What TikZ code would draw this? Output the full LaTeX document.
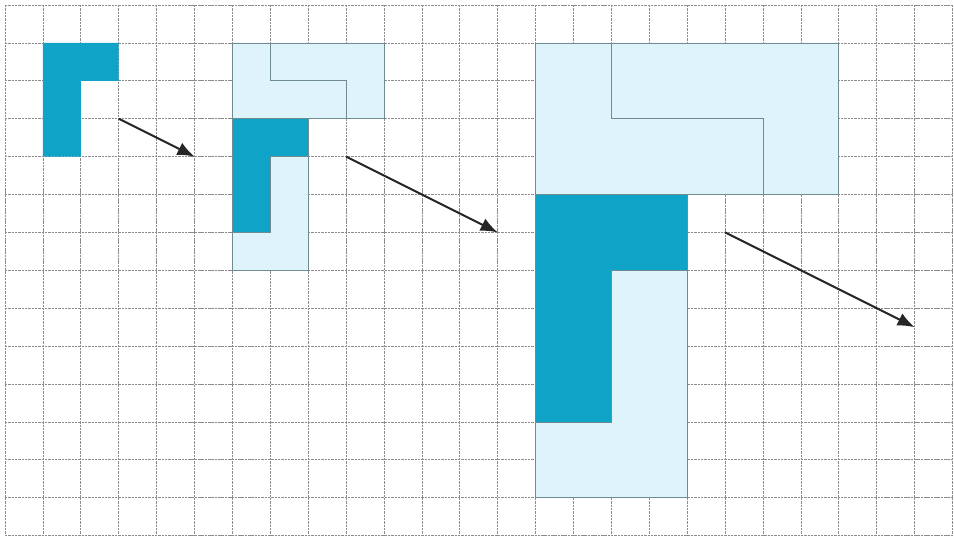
\documentclass[tikz,border=0pt]{standalone}
\usepackage{tikz}
\usetikzlibrary{arrows.meta}

\definecolor{tealdark}{RGB}{16,163,200}
\definecolor{teallight}{RGB}{222,243,250}
\definecolor{edgegray}{RGB}{110,140,145}

\begin{document}
\begin{tikzpicture}[x=1cm,y=-1cm,
  gridline/.style={gray!90,line width=0.55pt,dash pattern=on 1.8pt off 0.7pt},
  darkpiece/.style={fill=tealdark,draw=edgegray,line width=0.6pt},
  lightpiece/.style={fill=teallight,draw=edgegray,line width=0.6pt},
  seam/.style={draw=edgegray,line width=0.6pt},
  growarrow/.style={-{Latex[length=0.45cm,width=0.36cm]},line width=1.5pt,black!85}]
  \useasboundingbox (-0.132,-0.132) rectangle (25.039,14.010);
  % squared paper
  \foreach \c in {0,...,25} {
    \draw[gridline] (\c,0) -- (\c,14.01);
  }
  \foreach \r in {0,...,14} {
    \draw[gridline] (0,\r) -- (25.039,\r);
  }
  % L of four squares
  \fill[tealdark] (1,1) -- (3,1) -- (3,2) -- (2,2) -- (2,4) -- (1,4) -- cycle;
  % L doubled: four copies
  \draw[lightpiece] (6,1) -- (10,1) -- (10,3) -- (8,3) -- (8,7) -- (6,7) -- cycle;
  \draw[darkpiece] (6,3) -- (8,3) -- (8,4) -- (7,4) -- (7,6) -- (6,6) -- cycle;
  \draw[seam] (7,1) -- (7,2) -- (9,2) -- (9,3);
  \draw[seam] (6,3) -- (10,3);
  % L doubled again
  \draw[lightpiece] (14,1) -- (22,1) -- (22,5) -- (18,5) -- (18,13) -- (14,13) -- cycle;
  \draw[darkpiece] (14,5) -- (18,5) -- (18,7) -- (16,7) -- (16,11) -- (14,11) -- cycle;
  \draw[seam] (16,1) -- (16,3) -- (20,3) -- (20,5);
  % arrows between the stages
  \coordinate (tail1) at (3,3);
  \coordinate (head1) at (5,4);
  \coordinate (tail2) at (9,4);
  \coordinate (head2) at (13,6);
  \coordinate (tail3) at (19,6);
  \coordinate (head3) at (24,8.5);
  \foreach \i in {1,2,3} {
    \draw[growarrow] (tail\i) -- (head\i);
  }
\end{tikzpicture}
\end{document}
